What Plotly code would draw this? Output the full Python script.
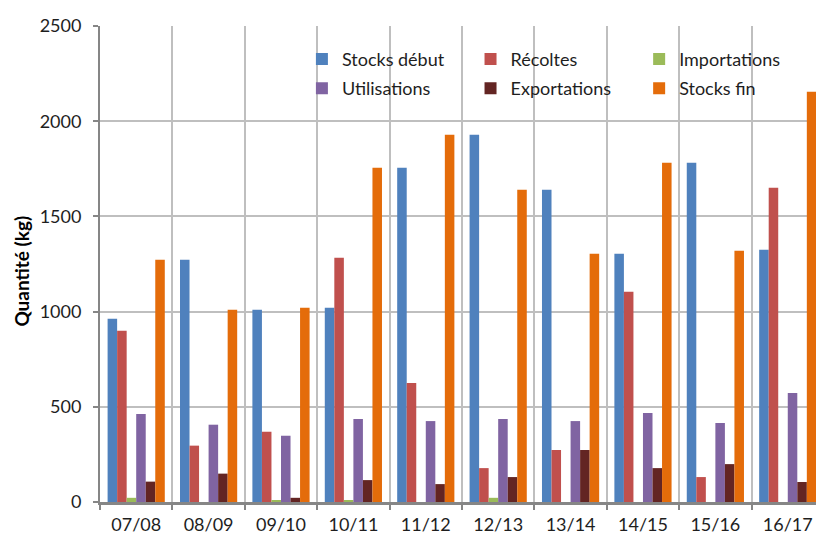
import plotly.graph_objects as go

categories = ["07/08", "08/09", "09/10", "10/11", "11/12", "12/13", "13/14", "14/15", "15/16", "16/17"]
stocks_debut = [963, 1272, 1010, 1020, 1756, 1929, 1640, 1304, 1782, 1325]
recoltes = [900, 296, 369, 1283, 625, 178, 273, 1104, 131, 1650]
importations = [22, 0, 7, 7, 0, 22, 0, 0, 0, 0]
utilisations = [462, 406, 348, 436, 425, 436, 425, 467, 415, 572]
exportations = [107, 149, 22, 115, 94, 131, 273, 178, 199, 105]
stocks_fin = [1272, 1010, 1020, 1756, 1929, 1640, 1304, 1782, 1320, 2155]

# (name, values, colour, legend column)
series = [
    ("Stocks début", stocks_debut, "#4F81BD", "legend"),
    ("Récoltes", recoltes, "#C0504D", "legend2"),
    ("Importations", importations, "#9BBB59", "legend3"),
    ("Utilisations", utilisations, "#8064A2", "legend"),
    ("Exportations", exportations, "#632523", "legend2"),
    ("Stocks fin", stocks_fin, "#E46C0A", "legend3"),
]

FONT = "Lato, 'Open Sans', sans-serif"
TXT = "#1E1E1E"

fig = go.Figure()
for name, vals, col, leg in series:
    fig.add_trace(go.Bar(
        x=categories, y=vals, name=name, legend=leg, legendgroup=name,
        marker=dict(color=col, line=dict(width=0)),
    ))

legend_common = dict(
    orientation="v", xanchor="left", y=0.969, yanchor="top",
    font=dict(family=FONT, size=18, color=TXT),
    bgcolor="rgba(0,0,0,0)", borderwidth=0, tracegroupgap=3,
)

fig.update_layout(
    width=816, height=536,
    margin=dict(l=100, r=0, t=26, b=34, autoexpand=False),
    paper_bgcolor="white", plot_bgcolor="white",
    barmode="group", bargap=0.21, bargroupgap=0,
    font=dict(family=FONT, size=18, color=TXT),
    legend=dict(x=0.282, **legend_common),
    legend2=dict(x=0.5175, **legend_common),
    legend3=dict(x=0.753, **legend_common),
    showlegend=True,
    annotations=[dict(
        text="<b>Quantité (kg)</b>", textangle=-90,
        xref="paper", yref="paper", x=-0.109, y=0.486,
        xanchor="center", yanchor="middle", showarrow=False,
        font=dict(family=FONT, size=19, color="#000000"),
    )],
)
fig.update_xaxes(
    type="category", range=[-0.5, 9.39], tickson="boundaries",
    showgrid=True, gridcolor="#BFBFBF", gridwidth=1.5,
    showline=True, linecolor="#868686", linewidth=2.5,
    ticks="outside", ticklen=5, tickcolor="#868686", tickwidth=2,
    tickfont=dict(family=FONT, size=18, color=TXT),
    ticklabelstandoff=5,
    automargin=False,
)
fig.update_yaxes(
    range=[0, 2500], dtick=500,
    showgrid=True, gridcolor="#BFBFBF", gridwidth=1.5,
    zeroline=False,
    showline=True, linecolor="#868686", linewidth=2,
    ticks="outside", ticklen=5, tickcolor="#868686", tickwidth=2,
    tickfont=dict(family=FONT, size=18, color=TXT),
    ticklabelstandoff=8,
    automargin=False,
)

fig.write_html(
    "out.html",
    config={"displayModeBar": False},
    post_script="document.body.style.margin='0';document.body.style.overflow='hidden';",
)
